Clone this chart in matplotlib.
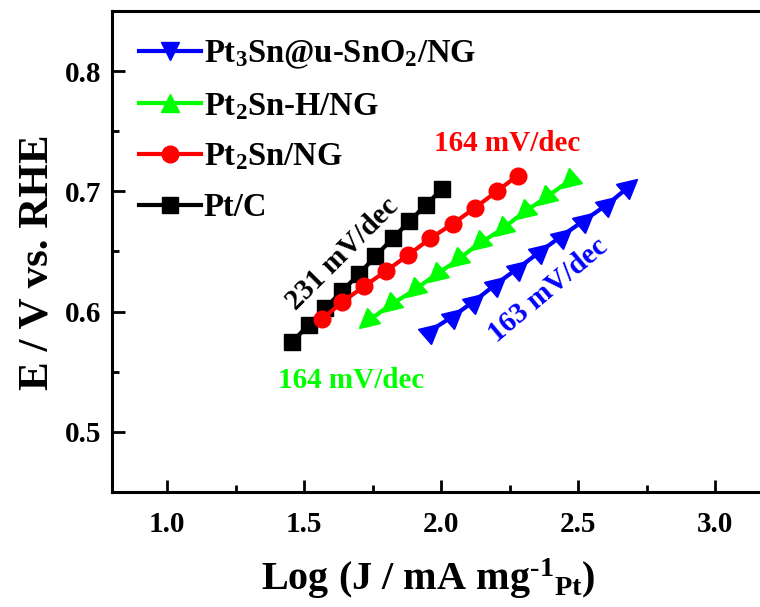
"""
Tafel plots for the Pt-based catalysts.
"""
import matplotlib
matplotlib.use("Agg")
import numpy as np
from matplotlib import pyplot as plt
from matplotlib.markers import MarkerStyle
from matplotlib.transforms import Affine2D
from matplotlib.lines import Line2D
from matplotlib.ticker import MultipleLocator

# Data: log current density vs potential
pt3sn_x = [1.967, 2.049, 2.128, 2.207, 2.286, 2.368, 2.447, 2.530, 2.612, 2.691]
pt3sn_y = [0.585, 0.597, 0.610, 0.624, 0.637, 0.651, 0.664, 0.677, 0.690, 0.705]

pt2snh_x = [1.726, 1.811, 1.896, 1.976, 2.055, 2.134, 2.219, 2.298, 2.377, 2.463]
pt2snh_y = [0.591, 0.605, 0.617, 0.630, 0.642, 0.656, 0.668, 0.682, 0.694, 0.708]

pt2sn_x = [1.566, 1.639, 1.719, 1.800, 1.880, 1.961, 2.042, 2.122, 2.203, 2.279]
pt2sn_y = [0.594, 0.608, 0.621, 0.634, 0.647, 0.661, 0.673, 0.686, 0.700, 0.713]

ptc_x = [1.457, 1.516, 1.577, 1.638, 1.699, 1.760, 1.823, 1.884, 1.945, 2.004]
ptc_y = [0.575, 0.589, 0.603, 0.617, 0.631, 0.646, 0.661, 0.675, 0.689, 0.702]

labels = [r"Pt$_3$Sn@u-SnO$_2$/NG", r"Pt$_2$Sn-H/NG", r"Pt$_2$Sn/NG", "Pt/C"]
slopes = ["163 mV/dec", "164 mV/dec", "164 mV/dec", "231 mV/dec"]
x_ticks = [1.0, 1.5, 2.0, 2.5, 3.0]
y_ticks = [0.5, 0.6, 0.7, 0.8]

# fonts: Times-like bold everywhere
plt.rcParams["font.family"] = ["Liberation Serif", "DejaVu Serif"]
plt.rcParams["font.weight"] = "bold"
plt.rcParams["axes.labelweight"] = "bold"
plt.rcParams["mathtext.fontset"] = "custom"
plt.rcParams["mathtext.rm"] = "Liberation Serif:bold"
plt.rcParams["mathtext.it"] = "Liberation Serif:bold"
plt.rcParams["mathtext.bf"] = "Liberation Serif:bold"

fig = plt.figure(figsize=(7.6, 6.07), dpi=100)
ax = fig.add_axes([0.148, 0.1895, 0.865, 0.7925])

BLUE, GREEN, RED, BLACK = "#0000FF", "#00FF00", "#FF0000", "#000000"

# rotated triangles, as they look in the plot area
tri_green = MarkerStyle("^", transform=Affine2D().rotate_deg(130))
tri_blue = MarkerStyle("v", transform=Affine2D().rotate_deg(130))

ax.plot(ptc_x, ptc_y, color=BLACK, lw=3, marker="s", ms=11)
ax.plot(pt2sn_x, pt2sn_y, color=RED, lw=3, marker="o", ms=12)
ax.plot(pt2snh_x, pt2snh_y, color=GREEN, lw=3, marker=tri_green, ms=14)
ax.plot(pt3sn_x, pt3sn_y, color=BLUE, lw=3, marker=tri_blue, ms=14)

# legend with upright markers
handles = [
    Line2D([], [], color=BLUE, lw=3, marker="v", ms=13),
    Line2D([], [], color=GREEN, lw=3, marker="^", ms=13),
    Line2D([], [], color=RED, lw=3, marker="o", ms=12),
    Line2D([], [], color=BLACK, lw=3, marker="s", ms=11),
]
ax.legend(handles, labels, loc="upper left", frameon=False, fontsize=23.5,
          handlelength=1.9, handletextpad=0.1, labelspacing=0.6,
          borderaxespad=0.3, bbox_to_anchor=(0.005, 0.99))

# slope annotations
ax.text(1.64, 0.648, slopes[3], color=BLACK, fontsize=21, rotation=45,
        ha="center", va="center")
ax.text(2.24, 0.740, slopes[1], color=RED, fontsize=21, ha="center", va="center")
ax.text(1.67, 0.543, slopes[2], color=GREEN, fontsize=21, ha="center", va="center")
ax.text(2.39, 0.618, slopes[0], color=BLUE, fontsize=21, rotation=40,
        ha="center", va="center")

ax.set_xlim(0.8, 3.2)
ax.set_ylim(0.45, 0.85)
ax.set_xticks(x_ticks)
ax.set_yticks(y_ticks)
ax.set_xticklabels([f"{t:.1f}" for t in x_ticks])
ax.set_yticklabels([f"{t:.1f}" for t in y_ticks])
ax.xaxis.set_minor_locator(MultipleLocator(0.25))
ax.yaxis.set_minor_locator(MultipleLocator(0.05))
ax.tick_params(which="both", direction="in", top=False, right=False,
               labelsize=21, width=2)
ax.tick_params(which="major", length=9, pad=14)
ax.tick_params(which="minor", length=5)
ax.tick_params(axis="y", which="major", pad=8)

for side in ["left", "bottom", "top"]:
    ax.spines[side].set_linewidth(2.2)
ax.spines["right"].set_visible(False)

ax.set_xlabel(r"Log (J / mA mg$^{\text{-1}}$$_{\text{Pt}}$)", fontsize=29)
ax.set_ylabel("E / V vs. RHE", fontsize=31)
ax.xaxis.set_label_coords(0.48, -0.135)
ax.yaxis.set_label_coords(-0.085, 0.478)

fig.savefig("out.png", dpi=100)
